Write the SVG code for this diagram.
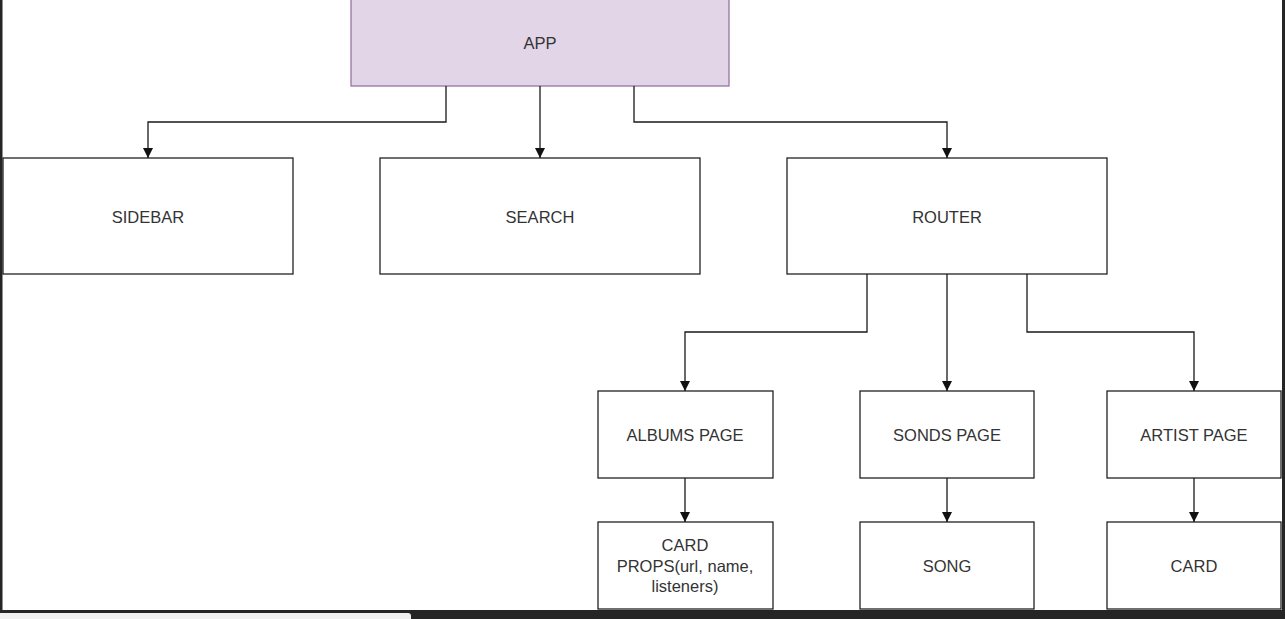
<svg xmlns="http://www.w3.org/2000/svg" width="1285" height="619" viewBox="0 0 1285 619">
<defs>
<style>
.box{fill:#ffffff;stroke:#222222;stroke-width:1.3}
.app{fill:#e1d5e7;stroke:#9673a6;stroke-width:1.3}
.lbl{font-family:"Liberation Sans",Arial,sans-serif;font-size:16.5px;fill:#333333;text-anchor:middle;dominant-baseline:central}
.conn{fill:none;stroke:#1a1a1a;stroke-width:1.3}
</style>
<marker id="arr" viewBox="0 0 10 10" refX="10" refY="5" markerWidth="10" markerHeight="10" markerUnits="userSpaceOnUse" orient="auto">
<path d="M0,0 L10,5 L0,10 Z" fill="#111111"/>
</marker>
</defs>
<rect x="0" y="0" width="1285" height="619" fill="#ffffff"/>
<g id="app"><rect class="app" x="351" y="-5" width="378" height="91"/><text class="lbl" x="540" y="43">APP</text></g>
<g id="sidebar"><rect class="box" x="3" y="158" width="290" height="116"/><text class="lbl" x="148" y="217">SIDEBAR</text></g>
<g id="search"><rect class="box" x="380" y="158" width="320" height="116"/><text class="lbl" x="540" y="217">SEARCH</text></g>
<g id="router"><rect class="box" x="787" y="158" width="320" height="116"/><text class="lbl" x="947" y="217">ROUTER</text></g>
<g id="albums"><rect class="box" x="598" y="391" width="175" height="87"/><text class="lbl" x="685" y="435">ALBUMS PAGE</text></g>
<g id="songs"><rect class="box" x="860" y="391" width="174" height="87"/><text class="lbl" x="947" y="435">SONDS PAGE</text></g>
<g id="artist"><rect class="box" x="1107" y="391" width="174" height="87"/><text class="lbl" x="1194" y="435">ARTIST PAGE</text></g>
<g id="cardprops"><rect class="box" x="598" y="522" width="175" height="87"/><text class="lbl" x="685" y="545">CARD</text><text class="lbl" x="685" y="565.5">PROPS(url, name,</text><text class="lbl" x="685" y="586">listeners)</text></g>
<g id="song"><rect class="box" x="860" y="522" width="174" height="87"/><text class="lbl" x="947" y="566">SONG</text></g>
<g id="card"><rect class="box" x="1107" y="522" width="174" height="87"/><text class="lbl" x="1194" y="566">CARD</text></g>
<g id="connectors">
<path class="conn" marker-end="url(#arr)" d="M446,86 V122 H148 V158"/>
<path class="conn" marker-end="url(#arr)" d="M540,86 V158"/>
<path class="conn" marker-end="url(#arr)" d="M634,86 V122 H947 V158"/>
<path class="conn" marker-end="url(#arr)" d="M867,274 V332 H685 V391"/>
<path class="conn" marker-end="url(#arr)" d="M947,274 V391"/>
<path class="conn" marker-end="url(#arr)" d="M1027,274 V332 H1194 V391"/>
<path class="conn" marker-end="url(#arr)" d="M685,478 V522"/>
<path class="conn" marker-end="url(#arr)" d="M947,478 V522"/>
<path class="conn" marker-end="url(#arr)" d="M1194,478 V522"/>
</g>
<g id="frame">
<rect x="0" y="0" width="2.5" height="619" fill="#252526"/>
<rect x="1282" y="0" width="3" height="619" fill="#252526"/>
<rect x="0" y="610" width="1285" height="9" fill="#252526"/>
<path d="M0,613 H408 Q411,613 411,616 V619 H0 Z" fill="#f0f0f0"/>
</g>
</svg>
